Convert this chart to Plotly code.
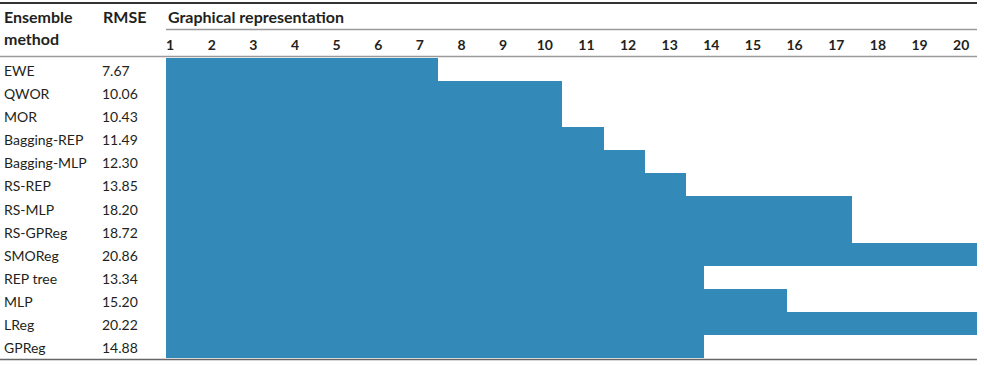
import plotly.graph_objects as go

# ---- data ----
methods = ["EWE", "QWOR", "MOR", "Bagging-REP", "Bagging-MLP", "RS-REP", "RS-MLP",
           "RS-GPReg", "SMOReg", "REP tree", "MLP", "LReg", "GPReg"]
rmse = ["7.67", "10.06", "10.43", "11.49", "12.30", "13.85", "18.20",
        "18.72", "20.86", "13.34", "15.20", "20.22", "14.88"]
# bar lengths of the graphical representation, read in column units
bar_end = [7.43, 10.42, 10.42, 11.41, 12.41, 13.39, 17.38,
           17.38, 20.5, 13.82, 15.81, 20.5, 13.82]
col_ticks = list(range(1, 21))
col_labels = [str(c) for c in col_ticks]

W, H = 984, 366
L, R, T, B = 166, 7, 58, 8
PW, PH = W - L - R, H - T - B
FONT = "Lato"
TXT = "#231f20"
BAR = "#338ab8"


def px(x):
    return (x - L) / PW


def py(y):
    return (H - B - y) / PH


fig = go.Figure()
fig.add_trace(go.Bar(
    y=methods, x=bar_end, base=0, orientation="h",
    marker=dict(color=BAR, line=dict(width=0)),
    hoverinfo="skip", showlegend=False,
))

ann = []
for m, r in zip(methods, rmse):
    ann.append(dict(x=px(2), y=m, xref="paper", yref="y", text=m, showarrow=False,
                    xanchor="left", yanchor="middle", yshift=-1,
                    font=dict(family=FONT, size=14, color=TXT)))
    ann.append(dict(x=px(100), y=m, xref="paper", yref="y", text=r, showarrow=False,
                    xanchor="left", yanchor="middle", yshift=-1,
                    font=dict(family=FONT, size=14, color=TXT)))

hdr = dict(family=FONT, size=16, color=TXT, weight="bold")
for txt, x, y in [("Ensemble", 2, 17), ("method", 2, 38.5), ("RMSE", 101, 17),
                  ("Graphical representation", 166, 17)]:
    ann.append(dict(x=px(x), y=py(y), xref="paper", yref="paper", text=txt,
                    showarrow=False, xanchor="left", yanchor="middle", font=hdr))

shapes = [
    dict(type="line", xref="paper", yref="paper", x0=px(0), x1=px(977), y0=py(3), y1=py(3),
         line=dict(color="#333333", width=2)),
    dict(type="line", xref="paper", yref="paper", x0=px(166), x1=px(977), y0=py(29.5), y1=py(29.5),
         line=dict(color="#9a9a9a", width=1.5)),
    dict(type="line", xref="paper", yref="paper", x0=px(0), x1=px(977), y0=py(56.5), y1=py(56.5),
         line=dict(color="#9a9a9a", width=1.5)),
    dict(type="line", xref="paper", yref="paper", x0=px(0), x1=px(977), y0=py(359.5), y1=py(359.5),
         line=dict(color="#666666", width=1.5)),
]

fig.update_layout(
    width=W, height=H,
    margin=dict(l=L, r=R, t=T, b=B, pad=0),
    paper_bgcolor="white", plot_bgcolor="white",
    bargap=0,
    annotations=ann, shapes=shapes,
    xaxis=dict(side="top", range=[0.902, 20.38], tickvals=col_ticks, ticktext=col_labels,
               tickfont=dict(family=FONT, size=14, color=TXT, weight="bold"),
               showgrid=False, zeroline=False, showline=False, ticks="", ticklabelstandoff=4,
               fixedrange=True),
    yaxis=dict(categoryorder="array", categoryarray=methods, range=[12.5, -0.5],
               showticklabels=False, showgrid=False, zeroline=False, showline=False,
               ticks="", fixedrange=True),
    font=dict(family=FONT, color=TXT),
)

fig.write_html("out.html", config={"displayModeBar": False})
